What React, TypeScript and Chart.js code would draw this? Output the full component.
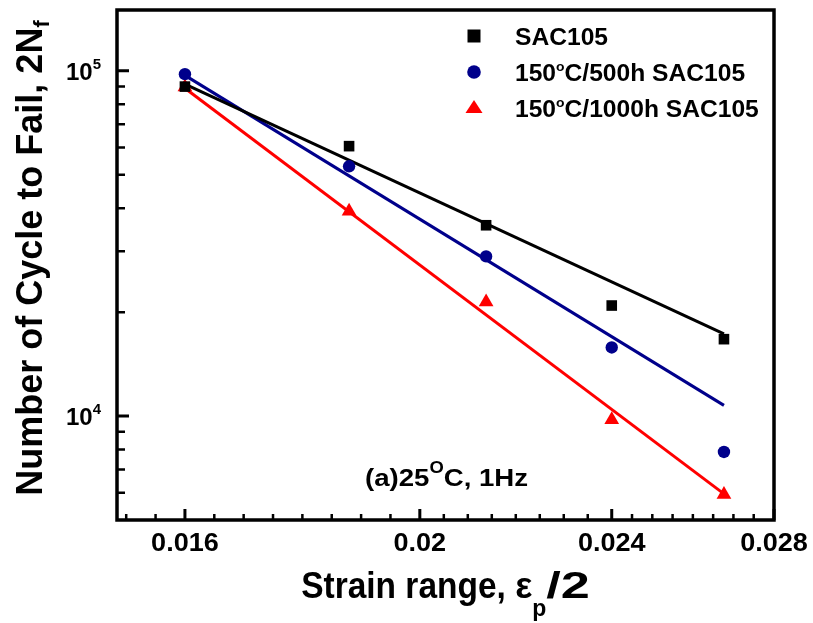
import React, { useEffect, useRef } from "react";
import { Chart, registerables } from "chart.js";

Chart.register(...registerables);

// ---------- data ----------
const strain = [0.016, 0.0187, 0.0213, 0.024, 0.0267];
const cyclesAsRec = [90000, 60500, 35700, 20900, 16700];
const cycles500h = [97800, 52900, 29000, 15800, 7870];
const cycles1000h = [89700, 39200, 21400, 9760, 5930];

const fitStrain = [0.016, 0.0267];
const fitAsRec = [91500, 17300];
const fit500h = [97000, 10740];
const fit1000h = [89000, 5950];

const seriesNames = ["SAC105", "150°C/500h SAC105", "150°C/1000h SAC105"];
const seriesColors = ["#000000", "#00008B", "#FF0000"];
const seriesStyles = ["rect", "circle", "triangle"];

const xTicks = [0.016, 0.02, 0.024, 0.028];
const xTickLabels = ["0.016", "0.02", "0.024", "0.028"];
const yDecades = [10000, 100000];
const yDecadeExp = ["4", "5"];

const xMin = 0.015;
const xMax = 0.028;
const yMin = 5000;
const yMax = 150000;

const xTitle = "Strain range, ";
const yTitle = "Number of Cycle to Fail, 2N";
const annotation = "(a)25°C, 1Hz";

// ---------- drawing helpers ----------
const FONT = "'Liberation Sans', Arial, Helvetica, sans-serif";
type Seg = { t: string; size: number; dy?: number; sx?: number };

function segW(ctx: CanvasRenderingContext2D, s: Seg, sx: number) {
  ctx.font = `bold ${s.size}px ${FONT}`;
  return ctx.measureText(s.t).width * (s.sx ?? 1) * sx;
}

function drawSegs(
  ctx: CanvasRenderingContext2D,
  segs: Seg[],
  x: number,
  y: number,
  align: "left" | "center" | "right",
  sx = 1
) {
  const total = segs.reduce((a, s) => a + segW(ctx, s, sx), 0);
  let cx = align === "left" ? x : align === "center" ? x - total / 2 : x - total;
  for (const s of segs) {
    const w = segW(ctx, s, sx);
    ctx.save();
    ctx.font = `bold ${s.size}px ${FONT}`;
    ctx.fillStyle = "#000";
    ctx.textAlign = "left";
    ctx.textBaseline = "alphabetic";
    ctx.translate(cx, y + (s.dy ?? 0));
    ctx.scale(sx * (s.sx ?? 1), 1);
    ctx.fillText(s.t, 0, 0);
    ctx.restore();
    cx += w;
  }
}

function degreeSegs(text: string, size: number, supChar: string, supSize: number, supDy: number): Seg[] {
  const parts = text.split("°");
  const segs: Seg[] = [];
  parts.forEach((p, i) => {
    if (i > 0) segs.push({ t: supChar, size: supSize, dy: supDy });
    if (p) segs.push({ t: p, size });
  });
  return segs;
}

function drawMarker(ctx: CanvasRenderingContext2D, style: string, x: number, y: number, color: string) {
  ctx.save();
  ctx.fillStyle = color;
  ctx.beginPath();
  if (style === "rect") {
    ctx.rect(x - 6.5, y - 6.5, 13, 13);
  } else if (style === "circle") {
    ctx.arc(x, y, 6.8, 0, Math.PI * 2);
  } else {
    ctx.moveTo(x, y - 8);
    ctx.lineTo(x + 8.5, y + 5);
    ctx.lineTo(x - 8.5, y + 5);
    ctx.closePath();
  }
  ctx.fill();
  ctx.restore();
}

function xMinorTicks(): number[] {
  const out: number[] = [];
  const n = 8;
  for (let i = 0; i < xTicks.length - 1; i++) {
    const a = xTicks[i];
    const r = Math.pow(xTicks[i + 1] / a, 1 / n);
    for (let k = 1; k < n; k++) out.push(a * Math.pow(r, k));
  }
  const r0 = Math.pow(xTicks[1] / xTicks[0], 1 / n);
  let v = xTicks[0] / r0;
  while (v > xMin) {
    out.push(v);
    v /= r0;
  }
  return out;
}

function yMinorTicks(): number[] {
  const out: number[] = [];
  for (const d of [1000, 10000, 100000]) {
    for (let m = 2; m <= 9; m++) {
      const v = m * d;
      if (v > yMin && v < yMax) out.push(v);
    }
  }
  return out;
}

const framePlugin = {
  id: "frameAndText",
  afterDraw(chart: any) {
    const ctx: CanvasRenderingContext2D = chart.ctx;
    const { left, right, top, bottom } = chart.chartArea;
    const xs = chart.scales.x;
    const ys = chart.scales.y;
    ctx.save();
    ctx.strokeStyle = "#000";
    ctx.lineCap = "butt";

    // ticks (inward)
    ctx.lineWidth = 3;
    ctx.beginPath();
    for (const v of xTicks) {
      const px = xs.getPixelForValue(v);
      ctx.moveTo(px, bottom);
      ctx.lineTo(px, bottom - 11);
    }
    for (const v of yDecades) {
      const py = ys.getPixelForValue(v);
      ctx.moveTo(left, py);
      ctx.lineTo(left + 12, py);
    }
    ctx.stroke();
    ctx.lineWidth = 2.5;
    ctx.beginPath();
    for (const v of xMinorTicks()) {
      const px = xs.getPixelForValue(v);
      ctx.moveTo(px, bottom);
      ctx.lineTo(px, bottom - 6);
    }
    for (const v of yMinorTicks()) {
      const py = ys.getPixelForValue(v);
      ctx.moveTo(left, py);
      ctx.lineTo(left + 8, py);
    }
    ctx.stroke();

    // frame
    ctx.lineWidth = 3.5;
    ctx.strokeRect(left, top, right - left, bottom - top);

    // x tick labels
    xTicks.forEach((v, i) => {
      drawSegs(ctx, [{ t: xTickLabels[i], size: 26 }], xs.getPixelForValue(v), bottom + 31, "center", 1.04);
    });
    // y tick labels
    yDecades.forEach((v, i) => {
      drawSegs(
        ctx,
        [
          { t: "10", size: 24 },
          { t: yDecadeExp[i], size: 15, dy: -11 },
        ],
        left - 16,
        ys.getPixelForValue(v) + 9,
        "right"
      );
    });

    // x title
    drawSegs(
      ctx,
      [
        { t: xTitle, size: 36, sx: 0.93 },
        { t: "ε", size: 36 },
        { t: "p", size: 23, dy: 18 },
        { t: "/2", size: 36, sx: 1.45 },
      ],
      (left + right) / 2,
      bottom + 78,
      "center"
    );

    // y title
    ctx.save();
    ctx.translate(42, (top + bottom) / 2 - 7);
    ctx.rotate(-Math.PI / 2);
    drawSegs(
      ctx,
      [
        { t: yTitle, size: 36 },
        { t: "f", size: 22, dy: 7 },
      ],
      0,
      0,
      "center"
    );
    ctx.restore();

    // legend
    seriesNames.forEach((name, i) => {
      const base = top + 35 + i * 36;
      drawMarker(ctx, seriesStyles[i], right - 300, base - 9, seriesColors[i]);
      drawSegs(ctx, degreeSegs(name, 23, "o", 13, -10), right - 259, base, "left", 1.07);
    });

    // annotation
    drawSegs(ctx, degreeSegs(annotation, 24, "O", 16, -13), 365, 486, "left", 1.15);

    ctx.restore();
  },
};

export default function App() {
  const ref = useRef<HTMLCanvasElement | null>(null);

  useEffect(() => {
    if (!ref.current) return;
    const pts = (xs: number[], ys: number[]) => xs.map((x, i) => ({ x, y: ys[i] }));
    const measured = [cyclesAsRec, cycles500h, cycles1000h];
    const fits = [fitAsRec, fit500h, fit1000h];
    const radii = [7.5, 6.2, 8.5];

    const datasets: any[] = [];
    measured.forEach((ys, i) => {
      datasets.push({
        label: seriesNames[i],
        data: pts(strain, ys),
        showLine: false,
        pointStyle: seriesStyles[i],
        pointRadius: radii[i],
        pointBackgroundColor: seriesColors[i],
        pointBorderColor: seriesColors[i],
        pointBorderWidth: 0,
      });
    });
    fits.forEach((ys, i) => {
      datasets.push({
        label: seriesNames[i] + " fit",
        data: pts(fitStrain, ys),
        showLine: true,
        pointRadius: 0,
        borderColor: seriesColors[i],
        borderWidth: 3,
        fill: false,
      });
    });

    const chart = new Chart(ref.current, {
      type: "scatter",
      data: { datasets },
      options: {
        animation: false,
        responsive: false,
        devicePixelRatio: 1,
        layout: { padding: { left: 117, right: 39, top: 10, bottom: 103 } },
        plugins: { legend: { display: false }, tooltip: { enabled: false } },
        scales: {
          x: { type: "logarithmic", min: xMin, max: xMax, display: false },
          y: { type: "logarithmic", min: yMin, max: yMax, display: false },
        },
      } as any,
      plugins: [framePlugin],
    });
    return () => chart.destroy();
  }, []);

  return (
    <div style={{ position: "absolute", left: 0, top: 0, width: 813, height: 623, background: "#fff" }}>
      <canvas ref={ref} width={813} height={623} />
    </div>
  );
}
